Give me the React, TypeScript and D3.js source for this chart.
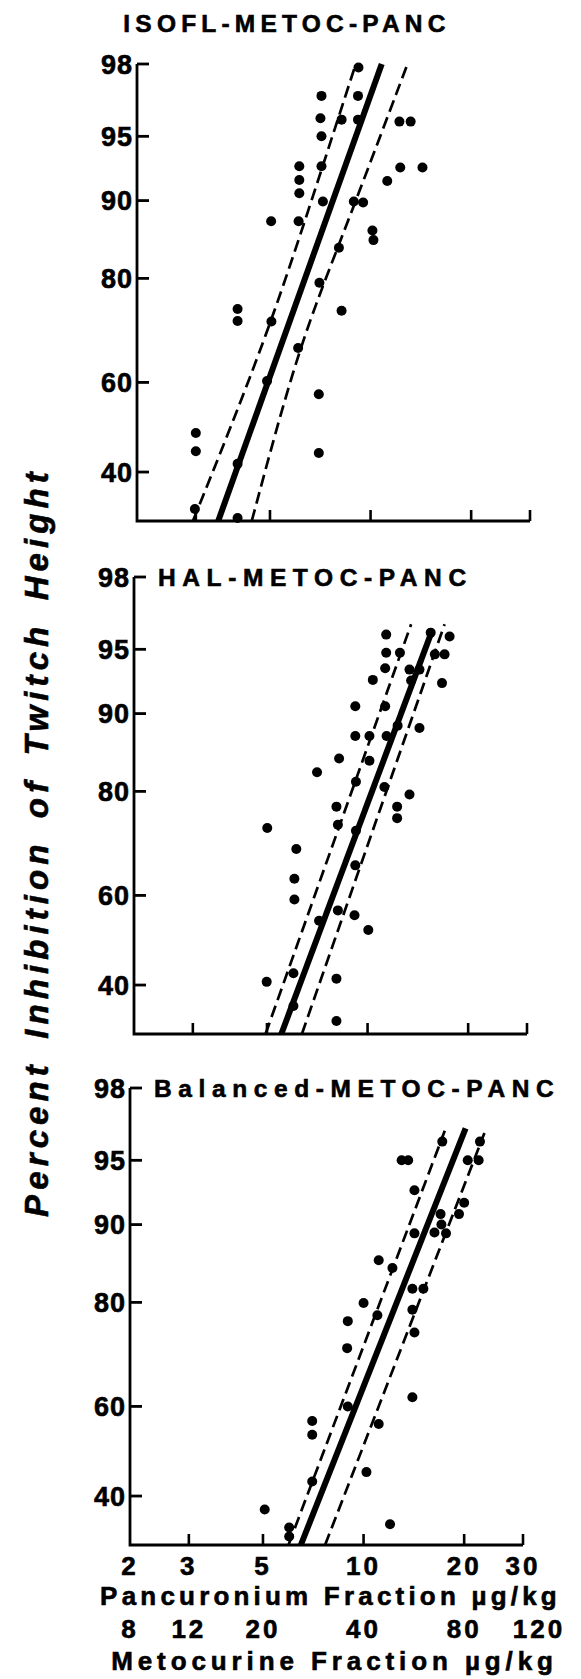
import React from "react";
import * as d3 from "d3";

const width = 581;
const height = 1679;

// shared axes: pancuronium fraction (log) with metocurine twin (4x), percent on probit scale
const panTicks = [2, 3, 5, 10, 20, 30];
const metTicks = [8, 12, 20, 40, 80, 120];
const pctTicks = [40, 60, 80, 90, 95, 98];
const doseDomain = [2, 30];
const pctDomain = [29.8, 98];

// [pancuronium µg/kg, % inhibition]
const isoflPoints = [
  [9.2, 97.9], [7.13, 96.95], [9.17, 96.95], [7.08, 95.97], [8.19, 95.9], [9.17, 95.9],
  [12.2, 95.8], [13.18, 95.8], [7.13, 95.0], [6.12, 93.0], [7.13, 93.0], [12.27, 92.9],
  [14.3, 92.9], [6.12, 91.9], [11.22, 91.8], [6.12, 90.7], [7.2, 89.9], [8.91, 89.9],
  [9.5, 89.8], [5.04, 87.8], [6.09, 87.8], [10.13, 86.7], [10.2, 85.5], [8.04, 84.5],
  [7.03, 79.3], [4.0, 74.8], [4.0, 72.6], [5.05, 72.5], [8.19, 74.5], [6.07, 67.3],
  [4.9, 60.3], [7.0, 57.4], [3.0, 48.7], [3.0, 44.6], [7.0, 44.2], [4.0, 41.8],
  [2.98, 32.2], [4.0, 30.4]
];
const isoflFit = [[3.5, 29.8], [10.8, 98]];
const isoflLow = [[2.94, 29.8], [3.59, 45.0], [5.08, 72.6], [7.17, 92.9], [9.03, 98]];
const isoflHigh = [[4.41, 29.8], [6.07, 67.3], [8.0, 84.5], [12.9, 98]];

const halPoints = [
  [11.37, 95.8], [15.45, 95.9], [17.6, 95.7], [11.37, 94.8], [12.5, 94.8], [15.9, 94.7],
  [17.0, 94.7], [11.29, 93.8], [13.35, 93.7], [14.3, 93.7], [10.37, 92.95], [13.5, 92.9],
  [16.7, 92.7], [9.19, 90.7], [11.29, 90.7], [12.3, 88.75], [14.3, 88.5], [9.19, 87.6],
  [10.13, 87.6], [11.4, 87.6], [8.22, 84.8], [10.13, 84.5], [7.06, 82.9], [9.23, 81.5],
  [11.23, 80.7], [13.35, 79.5], [8.07, 77.5], [12.26, 77.5], [12.26, 75.5], [8.15, 74.3],
  [5.01, 73.7], [9.23, 73.2], [6.12, 69.7], [9.19, 66.4], [6.04, 63.6], [6.04, 59.1],
  [7.16, 54.4], [8.15, 56.7], [9.14, 55.6], [10.05, 52.3], [6.0, 42.6], [4.99, 40.7],
  [8.07, 41.4], [6.0, 35.5], [8.07, 32.4]
];
const halFit = [[5.52, 29.8], [15.6, 96.0]];
const halLow = [[4.95, 29.8], [13.5, 96.3]];
const halHigh = [[6.36, 29.8], [17.0, 96.3]];

const balPoints = [
  [17.2, 96.0], [22.3, 96.0], [13.0, 95], [13.6, 95], [20.5, 95], [22.1, 95],
  [14.2, 93.0], [20.0, 92.0], [19.3, 91.0], [17.0, 91.0], [17.1, 90.0], [16.3, 89.2],
  [17.65, 89.1], [14.2, 89.1], [11.1, 86.0], [12.2, 85.0], [14.0, 82.1], [15.1, 82.1],
  [10.0, 79.9], [14.0, 78.8], [11.0, 77.9], [8.97, 76.9], [14.2, 74.9], [8.93, 72.0],
  [8.97, 60], [14.0, 62.0], [11.1, 56.1], [7.02, 56.8], [7.02, 53.7], [10.2, 45.3],
  [7.02, 43.2], [5.06, 37.1], [5.99, 33.3], [12.0, 34.0], [5.99, 31.5]
];
const balFit = [[6.49, 29.8], [20.2, 96.6]];
const balLow = [[5.96, 29.8], [17.5, 96.5]];
const balHigh = [[7.67, 29.8], [23.0, 96.4]];

const plotW = 393;
const plotH = 457;
const font = "'Liberation Sans', Arial, Helvetica, sans-serif";

// inverse normal cdf (Acklam) for the probit axis
function probit(pct) {
  const p = pct / 100;
  const a = [-39.69683028665376, 220.9460984245205, -275.9285104469687, 138.357751867269, -30.66479806614716, 2.506628277459239];
  const b = [-54.47609879822406, 161.5858368580409, -155.6989798598866, 66.80131188771972, -13.28068155288572];
  const c = [-0.007784894002430293, -0.3223964580411365, -2.400758277161838, -2.549732539343734, 4.374664141464968, 2.938163982698783];
  const d = [0.007784695709041462, 0.3224671290700398, 2.445134137142996, 3.754408661907416];
  const pl = 0.02425;
  if (p < pl) {
    const q = Math.sqrt(-2 * Math.log(p));
    return (((((c[0] * q + c[1]) * q + c[2]) * q + c[3]) * q + c[4]) * q + c[5]) / ((((d[0] * q + d[1]) * q + d[2]) * q + d[3]) * q + 1);
  }
  if (p > 1 - pl) {
    const q = Math.sqrt(-2 * Math.log(1 - p));
    return -(((((c[0] * q + c[1]) * q + c[2]) * q + c[3]) * q + c[4]) * q + c[5]) / ((((d[0] * q + d[1]) * q + d[2]) * q + d[3]) * q + 1);
  }
  const q = p - 0.5;
  const r = q * q;
  return (((((a[0] * r + a[1]) * r + a[2]) * r + a[3]) * r + a[4]) * r + a[5]) * q / (((((b[0] * r + b[1]) * r + b[2]) * r + b[3]) * r + b[4]) * r + 1);
}

const panels = [
  { title: "ISOFL-METOC-PANC", points: isoflPoints, fit: isoflFit, low: isoflLow, high: isoflHigh, left: 137, top: 64, inside: false },
  { title: "HAL-METOC-PANC", points: halPoints, fit: halFit, low: halLow, high: halHigh, left: 134, top: 577, inside: true },
  { title: "Balanced-METOC-PANC", points: balPoints, fit: balFit, low: balLow, high: balHigh, left: 130, top: 1088, inside: true }
];

const heavy = { fontWeight: "bold", fontFamily: font, stroke: "#000", strokeWidth: 0.6 };

function Panel({ cfg, last }) {
  const x = d3.scaleLog().domain(doseDomain).range([cfg.left, cfg.left + plotW]);
  const yp = d3.scaleLinear().domain(pctDomain.map(probit)).range([cfg.top + plotH, cfg.top]);
  const y = (p) => yp(probit(p));
  const bottom = cfg.top + plotH;

  const straight = d3.line().x(d => x(d[0])).y(d => y(d[1]));
  const curved = d3.line().x(d => x(d[0])).y(d => y(d[1])).curve(d3.curveBasis);
  const band = cfg.low.length > 2 ? curved : straight;

  return (
    <g>
      {/* fitted probit line and confidence limits */}
      <path d={straight(cfg.fit)} stroke="#000" strokeWidth={6} fill="none" />
      <path d={band(cfg.low)} stroke="#000" strokeWidth={2.7} strokeDasharray="12,6" fill="none" />
      <path d={band(cfg.high)} stroke="#000" strokeWidth={2.7} strokeDasharray="12,6" fill="none" />

      {cfg.points.map((d, i) => (
        <circle key={i} cx={x(d[0])} cy={y(d[1])} r={5} fill="#000" />
      ))}

      {/* axes */}
      <path d={`M${cfg.left},${cfg.top}V${bottom}H${cfg.left + plotW}`} stroke="#000" strokeWidth={2.8} fill="none" />
      {pctTicks.map(t => (
        <g key={t}>
          <line x1={cfg.left} x2={cfg.left + 12} y1={y(t)} y2={y(t)} stroke="#000" strokeWidth={2.8} />
          <text x={cfg.left - 4} y={y(t)} dy="0.36em" textAnchor="end" fontSize={27} letterSpacing={1} {...heavy}>
            {t}
          </text>
        </g>
      ))}
      {panTicks.slice(1).map(t => (
        <line key={t} x1={x(t)} x2={x(t)} y1={bottom} y2={bottom - 11} stroke="#000" strokeWidth={2.6} />
      ))}

      {cfg.inside ? (
        <text x={cfg.left + 24} y={cfg.top} dy="0.36em" fontSize={24.5} letterSpacing={6.6} {...heavy}>
          {cfg.title}
        </text>
      ) : (
        <text x={287} y={cfg.top - 41} dy="0.36em" textAnchor="middle" fontSize={24.5} letterSpacing={5.2} {...heavy}>
          {cfg.title}
        </text>
      )}

      {last && (
        <g fontSize={26} letterSpacing={3} {...heavy}>
          {panTicks.map(t => (
            <text key={t} x={x(t)} y={bottom + 21} dy="0.36em" textAnchor="middle">{t}</text>
          ))}
          <text x={cfg.left + plotW / 2 + 4} y={bottom + 51} dy="0.36em" textAnchor="middle" letterSpacing={4.2}>
            Pancuronium Fraction µg/kg
          </text>
          {metTicks.map((t, i) => (
            <text key={t} x={x(panTicks[i]) + (i === metTicks.length - 1 ? 16 : 0)} y={bottom + 84} dy="0.36em" textAnchor="middle">{t}</text>
          ))}
          <text x={cfg.left + plotW / 2 + 8} y={bottom + 116} dy="0.36em" textAnchor="middle" letterSpacing={4.9}>
            Metocurine Fraction µg/kg
          </text>
        </g>
      )}
    </g>
  );
}

export default function App() {
  return (
    <svg width={width} height={height} style={{ position: "absolute", left: 0, top: 0, background: "#fff" }}>
      <rect width={width} height={height} fill="#fff" />
      {panels.map((p, i) => (
        <Panel key={p.title} cfg={p} last={i === panels.length - 1} />
      ))}
      <text
        transform={`translate(36, 842) rotate(-90)`}
        textAnchor="middle"
        dy="0.36em"
        fontSize={33}
        fontStyle="italic"
        letterSpacing={5.1}
        wordSpacing={7}
        {...heavy}
      >
        Percent Inhibition of Twitch Height
      </text>
    </svg>
  );
}
